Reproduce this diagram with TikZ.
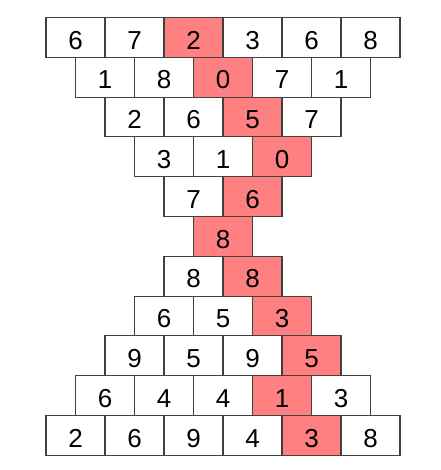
\documentclass[tikz,border=0pt]{standalone}
\usepackage{fontspec}
\setmainfont{Liberation Sans}
\usetikzlibrary{positioning}
\definecolor{hot}{HTML}{FF8080}
\definecolor{rim}{HTML}{404040}

\begin{document}
\begin{tikzpicture}[x=1pt,y=-1pt,
    cell/.style={draw=rim,line width=1.1pt,minimum width=59pt,minimum height=39.8pt,
      inner sep=0pt,text height=23.4pt,text depth=0pt,font=\fontsize{26}{27}\selectfont}]
    \useasboundingbox (0,0) rectangle (440,470);
    % one line of cells per row, the marked cell in red
    \foreach \r/\hit/\digits in {0/3/{6,7,2,3,6,8},1/3/{1,8,0,7,1},2/3/{2,6,5,7},
        3/3/{3,1,0},4/2/{7,6},5/1/{8},6/2/{8,8},7/3/{6,5,3},8/4/{9,5,9,5},
        9/4/{6,4,4,1,3},10/5/{2,6,9,4,3,8}}{
      \pgfmathsetmacro\n{abs(5-\r)+1}
      \pgfmathsetmacro\left{46+(6-\n)*29.5}
      \foreach \d [count=\c] in \digits {
        \ifnum\c=\hit \def\paint{hot}\else\def\paint{white}\fi
        \node[cell,fill=\paint] (c-\r-\c) at ({\left+(\c-0.5)*59},{37.4+\r*39.8}) {\d};
      }
    }
\end{tikzpicture}
\end{document}
